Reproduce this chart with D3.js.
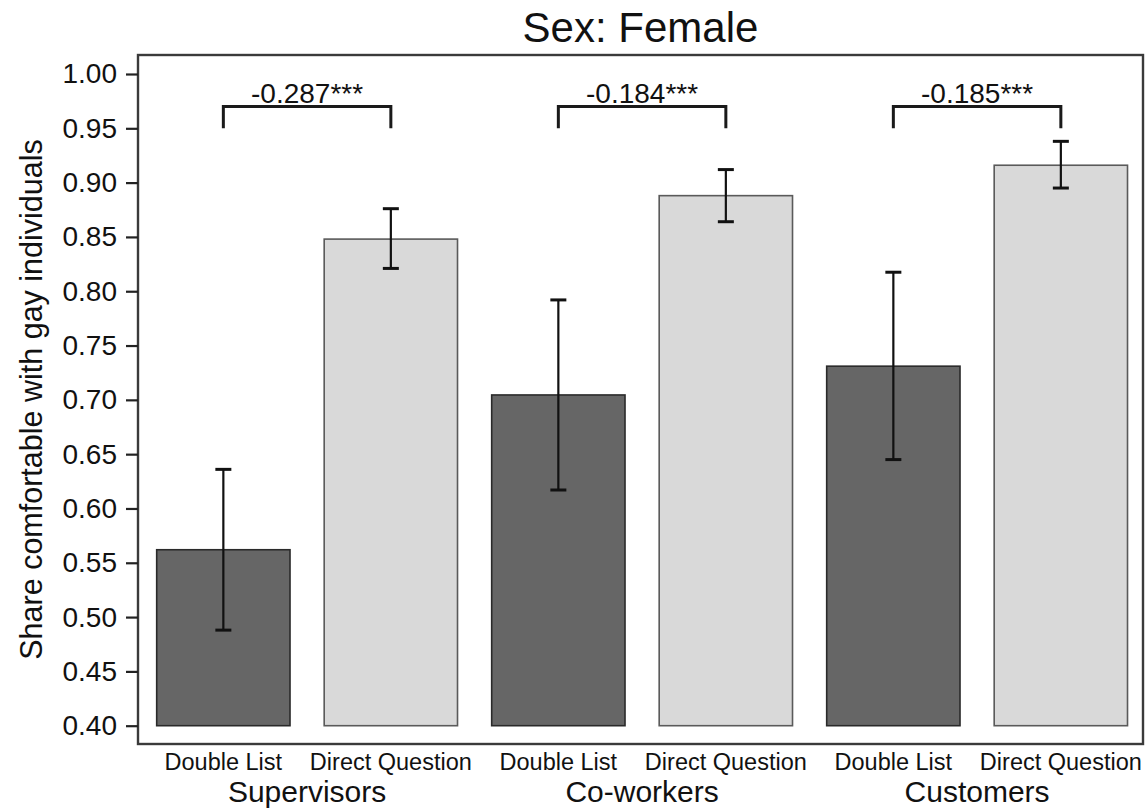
<!DOCTYPE html>
<html>
<head>
<meta charset="utf-8">
<script src="https://cdn.jsdelivr.net/npm/d3@7"></script>
<style>
  html, body { margin: 0; padding: 0; background: #fff; }
  svg { display: block; font-family: "Liberation Sans", Arial, Helvetica, sans-serif; }
</style>
</head>
<body>
<svg id="chart" width="1148" height="809"></svg>
<script>
// Groups (audience) and question formats
const groups = ["Supervisors", "Co-workers", "Customers"];
const methods = ["Double List", "Direct Question"];

// Share comfortable, per group: [Double List, Direct Question]
const meanDoubleList = [0.562, 0.7045, 0.731];
const meanDirect = [0.848, 0.888, 0.916];
// 95% confidence bounds
const lowDoubleList = [0.488, 0.617, 0.645];
const highDoubleList = [0.636, 0.792, 0.8175];
const lowDirect = [0.821, 0.864, 0.895];
const highDirect = [0.876, 0.912, 0.938];
// Difference labels shown above each pair
const diffLabels = ["-0.287***", "-0.184***", "-0.185***"];
const yTicks = [0.40, 0.45, 0.50, 0.55, 0.60, 0.65, 0.70, 0.75, 0.80, 0.85, 0.90, 0.95, 1.00];

const title = "Sex: Female";
const yTitle = "Share comfortable with gay individuals";

const rows = [];
groups.forEach((g, i) => {
  rows.push({ group: g, method: methods[0], key: g + "|" + methods[0], mean: meanDoubleList[i], lo: lowDoubleList[i], hi: highDoubleList[i] });
  rows.push({ group: g, method: methods[1], key: g + "|" + methods[1], mean: meanDirect[i], lo: lowDirect[i], hi: highDirect[i] });
});

const svg = d3.select("#chart");
const box = { left: 138, right: 1143, top: 55, bottom: 744 };

const x = d3.scaleBand()
  .domain(rows.map(d => d.key))
  .range([139.6, 1144.6])
  .paddingInner(0.204)
  .paddingOuter(0.102);

const y = d3.scaleLinear().domain([0.40, 1.00]).range([725.7, 74]);

const fill = { "Double List": "#666666", "Direct Question": "#d9d9d9" };
const edge = { "Double List": "#2a2a2a", "Direct Question": "#5a5a5a" };

// Title
svg.append("text")
  .attr("x", (box.left + box.right) / 2)
  .attr("y", 42)
  .attr("text-anchor", "middle")
  .attr("font-size", 42)
  .attr("fill", "#111")
  .text(title);

// Bars
svg.append("g").selectAll("rect")
  .data(rows)
  .join("rect")
  .attr("x", d => x(d.key))
  .attr("width", x.bandwidth())
  .attr("y", d => y(d.mean))
  .attr("height", d => y(0.40) - y(d.mean))
  .attr("fill", d => fill[d.method])
  .attr("stroke", d => edge[d.method])
  .attr("stroke-width", 1.6);

// Error bars
const capHalf = 8;
const eb = svg.append("g").attr("stroke", "#111").attr("stroke-width", 2.2);
rows.forEach(d => {
  const cx = x(d.key) + x.bandwidth() / 2;
  eb.append("line").attr("x1", cx).attr("x2", cx).attr("y1", y(d.hi)).attr("y2", y(d.lo));
  eb.append("line").attr("x1", cx - capHalf).attr("x2", cx + capHalf).attr("y1", y(d.hi)).attr("y2", y(d.hi)).attr("stroke-width", 3);
  eb.append("line").attr("x1", cx - capHalf).attr("x2", cx + capHalf).attr("y1", y(d.lo)).attr("y2", y(d.lo)).attr("stroke-width", 3);
});

// Difference brackets
const brk = svg.append("g");
groups.forEach((g, i) => {
  const x1 = x(g + "|" + methods[0]) + x.bandwidth() / 2;
  const x2 = x(g + "|" + methods[1]) + x.bandwidth() / 2;
  brk.append("path")
    .attr("d", `M${x1},${y(0.95)}V${y(0.97)}H${x2}V${y(0.95)}`)
    .attr("fill", "none")
    .attr("stroke", "#1a1a1a")
    .attr("stroke-width", 3);
  brk.append("text")
    .attr("x", (x1 + x2) / 2)
    .attr("y", y(0.9735))
    .attr("text-anchor", "middle")
    .attr("font-size", 28)
    .attr("fill", "#111")
    .text(diffLabels[i]);
});

// Plot frame
svg.append("rect")
  .attr("x", box.left).attr("y", box.top)
  .attr("width", box.right - box.left).attr("height", box.bottom - box.top)
  .attr("fill", "none").attr("stroke", "#3a3a3a").attr("stroke-width", 2.4);

// Y axis
const yAxis = svg.append("g")
  .attr("transform", `translate(${box.left},0)`)
  .call(d3.axisLeft(y).tickValues(yTicks).tickFormat(d3.format(".2f")).tickSize(12).tickPadding(9));
yAxis.select(".domain").remove();
yAxis.selectAll(".tick line").attr("stroke", "#222").attr("stroke-width", 2.2);
yAxis.selectAll(".tick text")
  .attr("font-size", 28)
  .attr("fill", "#111")
  .attr("font-family", "'Liberation Sans', Arial, Helvetica, sans-serif");

// Y title
svg.append("text")
  .attr("transform", `translate(42,${(box.top + box.bottom) / 2}) rotate(-90)`)
  .attr("text-anchor", "middle")
  .attr("font-size", 30.5)
  .attr("fill", "#111")
  .text(yTitle);

// X labels: method under each bar, group under each pair
svg.append("g").selectAll("text")
  .data(rows)
  .join("text")
  .attr("x", d => x(d.key) + x.bandwidth() / 2)
  .attr("y", 770)
  .attr("text-anchor", "middle")
  .attr("font-size", 23.5)
  .attr("fill", "#111")
  .text(d => d.method);

svg.append("g").selectAll("text")
  .data(groups)
  .join("text")
  .attr("x", g => (x(g + "|" + methods[0]) + x(g + "|" + methods[1]) + x.bandwidth()) / 2)
  .attr("y", 802)
  .attr("text-anchor", "middle")
  .attr("font-size", 30)
  .attr("fill", "#111")
  .text(g => g);
</script>
</body>
</html>
